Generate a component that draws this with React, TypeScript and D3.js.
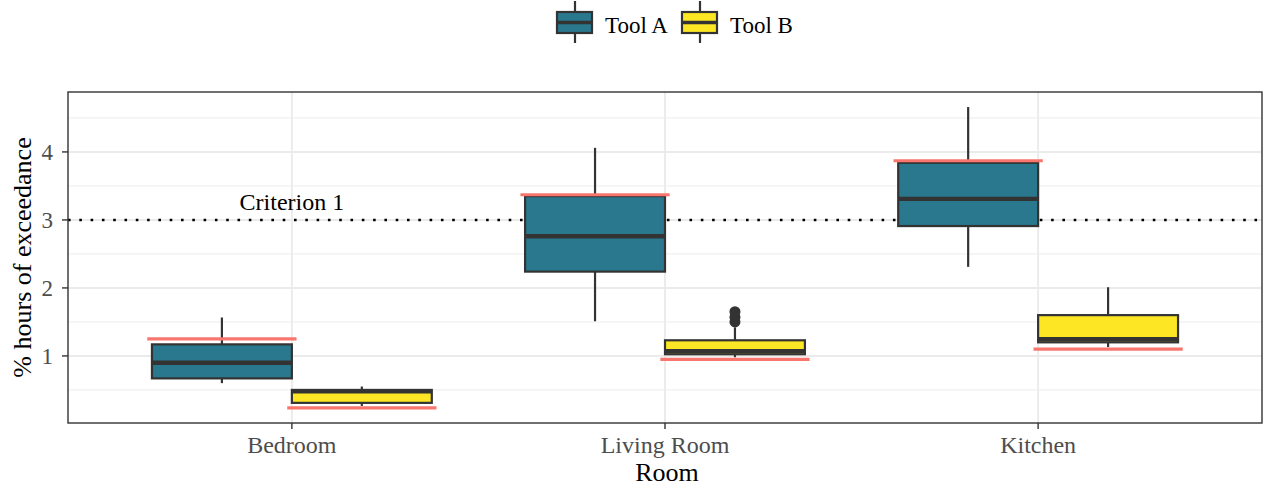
import React from 'react';
import * as d3 from 'd3';

const rooms = ['Bedroom', 'Living Room', 'Kitchen'];
const tools = ['Tool A', 'Tool B'];
const toolColors = ['#2A788E', '#FDE725'];

// [room, tool, whiskerLow, q1, median, q3, whiskerHigh]
const boxStats: [string, string, number, number, number, number, number][] = [
    ['Bedroom', 'Tool A', 0.60, 0.67, 0.90, 1.17, 1.565],
    ['Bedroom', 'Tool B', 0.265, 0.31, 0.48, 0.50, 0.55],
    ['Living Room', 'Tool A', 1.51, 2.24, 2.76, 3.35, 4.06],
    ['Living Room', 'Tool B', 0.98, 1.025, 1.07, 1.23, 1.42],
    ['Kitchen', 'Tool A', 2.31, 2.91, 3.31, 3.84, 4.66],
    ['Kitchen', 'Tool B', 1.13, 1.20, 1.245, 1.60, 2.01],
];

const outliers: [string, string, number][] = [
    ['Living Room', 'Tool B', 1.50],
    ['Living Room', 'Tool B', 1.57],
    ['Living Room', 'Tool B', 1.65],
];

// reference values (red lines)
const refValues: [string, string, number][] = [
    ['Bedroom', 'Tool A', 1.25],
    ['Bedroom', 'Tool B', 0.235],
    ['Living Room', 'Tool A', 3.37],
    ['Living Room', 'Tool B', 0.95],
    ['Kitchen', 'Tool A', 3.87],
    ['Kitchen', 'Tool B', 1.10],
];

const criterion = 3;
const criterionLabel = 'Criterion 1';
const yTicks = [1, 2, 3, 4];
const yMinor = [0.5, 1.5, 2.5, 3.5, 4.5];

const W = 1264, H = 488;
const margin = {left: 68, right: 2, top: 92, bottom: 65};
const font = '"Liberation Serif", "DejaVu Serif", serif';

export default function App() {
    const x0 = margin.left, x1 = W - margin.right;
    const yTop = margin.top, yBot = H - margin.bottom;

    const x = d3.scaleBand<string>()
        .domain(rooms)
        .range([x0, x1])
        .paddingInner(0)
        .paddingOuter(0.1);
    const xTool = d3.scaleBand<string>()
        .domain(tools)
        .range([0, x.bandwidth()])
        .paddingInner(0)
        .paddingOuter(1 / 3);

    const allVals = [
        ...boxStats.flatMap(d => [d[2], d[6]]),
        ...outliers.map(d => d[2]),
        ...refValues.map(d => d[2]),
    ];
    const [vmin, vmax] = d3.extent(allVals) as [number, number];
    const pad = (vmax - vmin) * 0.05;
    const y = d3.scaleLinear()
        .domain([vmin - pad, vmax + pad])
        .range([yBot, yTop]);

    const cx = (room: string, tool: string) =>
        (x(room) as number) + (xTool(tool) as number) + xTool.bandwidth() / 2;
    const bw = xTool.bandwidth();
    const refW = x.bandwidth() * 0.4;
    const colorOf = (tool: string) => toolColors[tools.indexOf(tool)];
    const dark = '#333333';

    return (
        <svg width={W} height={H} viewBox={`0 0 ${W} ${H}`}
             style={{display: 'block', position: 'absolute', left: 0, top: 0, background: '#fff'}}>
            <rect width={W} height={H} fill="#fff"/>

            {/* grid */}
            <g>
                {yMinor.map(v => (
                    <line key={'mn' + v} x1={x0} x2={x1} y1={y(v)} y2={y(v)}
                          stroke="#EBEBEB" strokeWidth={0.9}/>
                ))}
                {yTicks.map(v => (
                    <line key={'mj' + v} x1={x0} x2={x1} y1={y(v)} y2={y(v)}
                          stroke="#EBEBEB" strokeWidth={1.9}/>
                ))}
                {rooms.map(r => {
                    const px = (x(r) as number) + x.bandwidth() / 2;
                    return <line key={'vx' + r} x1={px} x2={px} y1={yTop} y2={yBot}
                                 stroke="#EBEBEB" strokeWidth={1.9}/>;
                })}
            </g>

            {/* criterion line */}
            <line x1={x0} x2={x1} y1={y(criterion)} y2={y(criterion)}
                  stroke="#000" strokeWidth={2.6} strokeDasharray="2.6 8.7"/>
            <text x={(x('Bedroom') as number) + x.bandwidth() / 2} y={y(criterion + 0.15)}
                  textAnchor="middle" fontFamily={font} fontSize={24} fill="#000">{criterionLabel}</text>

            {/* boxes */}
            {boxStats.map(([room, tool, lo, q1, med, q3, hi]) => {
                const c = cx(room, tool);
                return (
                    <g key={room + tool}>
                        <line x1={c} x2={c} y1={y(hi)} y2={y(q3)} stroke={dark} strokeWidth={2.2}/>
                        <line x1={c} x2={c} y1={y(q1)} y2={y(lo)} stroke={dark} strokeWidth={2.2}/>
                        <rect x={c - bw / 2} y={y(q3)} width={bw} height={y(q1) - y(q3)}
                              fill={colorOf(tool)} stroke={dark} strokeWidth={2.2}/>
                        <line x1={c - bw / 2} x2={c + bw / 2} y1={y(med)} y2={y(med)}
                              stroke={dark} strokeWidth={4.4}/>
                    </g>
                );
            })}
            {outliers.map(([room, tool, v], i) => (
                <circle key={'o' + i} cx={cx(room, tool)} cy={y(v)} r={5.5} fill={dark}/>
            ))}

            {/* reference lines */}
            {refValues.map(([room, tool, v]) => {
                const c = cx(room, tool);
                return <line key={'r' + room + tool} x1={c - refW / 2} x2={c + refW / 2}
                             y1={y(v)} y2={y(v)} stroke="#F8766D" strokeWidth={3.2}/>;
            })}

            {/* panel border */}
            <rect x={x0} y={yTop} width={x1 - x0} height={yBot - yTop}
                  fill="none" stroke={dark} strokeWidth={1.4}/>

            {/* y axis */}
            {yTicks.map(v => (
                <g key={'yt' + v}>
                    <line x1={x0 - 6} x2={x0} y1={y(v)} y2={y(v)} stroke={dark} strokeWidth={1.4}/>
                    <text x={x0 - 15} y={y(v)} dy="0.35em" textAnchor="end"
                          fontFamily={font} fontSize={23} fill="#4D4D4D">{v}</text>
                </g>
            ))}
            <text transform={`translate(31, ${(yTop + yBot) / 2}) rotate(-90)`}
                  textAnchor="middle" fontFamily={font} fontSize={26} fill="#000">% hours of exceedance</text>

            {/* x axis */}
            {rooms.map(r => {
                const px = (x(r) as number) + x.bandwidth() / 2;
                return (
                    <g key={'xt' + r}>
                        <line x1={px} x2={px} y1={yBot} y2={yBot + 6} stroke={dark} strokeWidth={1.4}/>
                        <text x={px} y={yBot + 30} textAnchor="middle"
                              fontFamily={font} fontSize={24} fill="#4D4D4D">{r}</text>
                    </g>
                );
            })}
            <text x={(x0 + x1) / 2 + 2} y={481} textAnchor="middle"
                  fontFamily={font} fontSize={26} fill="#000">Room</text>

            {/* legend */}
            {tools.map((t, i) => {
                const lx = 557 + i * 125;
                return (
                    <g key={'lg' + t}>
                        <line x1={lx + 18} x2={lx + 18} y1={1} y2={43} stroke={dark} strokeWidth={2.2}/>
                        <rect x={lx} y={12} width={35} height={21}
                              fill={toolColors[i]} stroke={dark} strokeWidth={2.2}/>
                        <line x1={lx} x2={lx + 35} y1={22.5} y2={22.5} stroke={dark} strokeWidth={3.5}/>
                        <text x={lx + 48} y={32.5} fontFamily={font} fontSize={23} fill="#000">{t}</text>
                    </g>
                );
            })}
        </svg>
    );
}
